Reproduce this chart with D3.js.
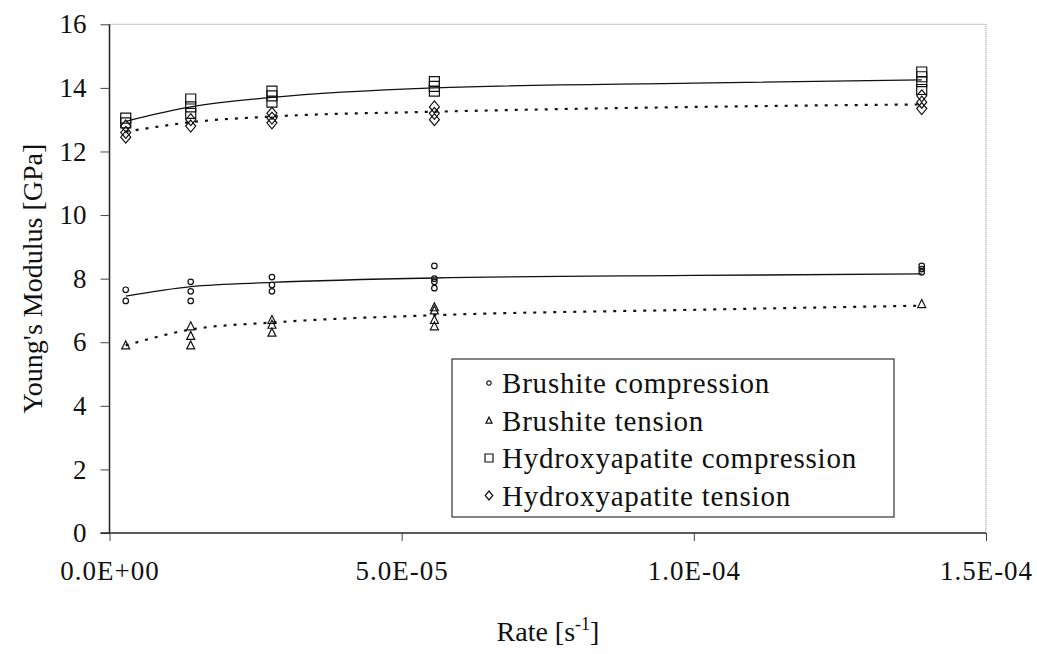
<!DOCTYPE html>
<html>
<head>
<meta charset="utf-8">
<script src="https://cdn.jsdelivr.net/npm/d3@7"></script>
<style>
  body { margin: 0; background: #fff; }
  text { font-family: "Liberation Serif", "Times New Roman", serif; fill: #111; }
</style>
</head>
<body>
<svg width="1037" height="654"></svg>
<script>
// rates [1/s] for each cluster
var rates = [2.78e-6, 1.39e-5, 2.78e-5, 5.56e-5, 1.39e-4];

// measured points, one list per rate
var haComp = [[13.05, 12.9], [13.65, 13.4, 13.2], [13.9, 13.75, 13.55], [14.2, 14.05, 13.9], [14.5, 14.35, 14.2, 13.95]];
var haTens = [[12.8, 12.6, 12.45], [13.0, 12.8], [13.2, 13.05, 12.9], [13.4, 13.2, 13.0], [13.75, 13.55, 13.35]];
var brComp = [[7.65, 7.3], [7.9, 7.6, 7.3], [8.05, 7.8, 7.6], [8.4, 8.0, 7.9, 7.7], [8.4, 8.3, 8.2]];
var brTens = [[5.9], [6.5, 6.2, 5.9], [6.7, 6.55, 6.3], [7.1, 7.0, 6.7, 6.5], [7.2]];

// trend lines
var trendX = [2.78e-6, 1.39e-5, 2.78e-5, 5.56e-5, 1.0e-4, 1.39e-4];
var haCompTrend = [12.95, 13.4, 13.7, 14.0, 14.15, 14.25];
var haTensTrend = [12.62, 12.92, 13.1, 13.25, 13.4, 13.48];
var brCompTrend = [7.45, 7.75, 7.88, 8.02, 8.1, 8.15];
var brTensTrend = [5.9, 6.4, 6.62, 6.85, 7.02, 7.15];

var xTicks = [0, 5e-5, 1e-4, 1.5e-4];
var xTickLabels = ["0.0E+00", "5.0E-05", "1.0E-04", "1.5E-04"];
var yTicks = [0, 2, 4, 6, 8, 10, 12, 14, 16];
var legendLabels = ["Brushite compression", "Brushite tension", "Hydroxyapatite compression", "Hydroxyapatite tension"];

var plotL = 109.5, plotR = 986, plotT = 24.3, plotB = 533;
var x = d3.scaleLinear().domain([0, 1.5e-4]).range([plotL, plotR]);
var y = d3.scaleLinear().domain([0, 16]).range([plotB, plotT]);

var svg = d3.select("svg");

// plot border (top/right dotted)
svg.append("path")
    .attr("d", "M" + plotL + "," + plotT + "H" + plotR + "V" + plotB)
    .attr("fill", "none").attr("stroke", "#888").attr("stroke-width", 1)
    .attr("stroke-dasharray", "1,1");

// axes
var yaxis = d3.axisLeft(y).tickValues(yTicks).tickSize(9).tickPadding(14).tickFormat(d3.format("d"));
var gy = svg.append("g").attr("transform", "translate(" + plotL + ",0)").call(yaxis);
var xaxis = d3.axisBottom(x).tickValues(xTicks).tickSize(8).tickPadding(20)
    .tickFormat(function(d, i) { return xTickLabels[i]; });
var gx = svg.append("g").attr("transform", "translate(0," + plotB + ")").call(xaxis);
[gx, gy].forEach(function(g) {
    g.select(".domain").attr("stroke", "#222").attr("stroke-width", 1.5);
    g.selectAll(".tick line").attr("stroke", "#444");
    g.selectAll("text").style("font-size", "27px").style("font-family", "Liberation Serif").attr("fill", "#111");
});
gx.selectAll("text").style("letter-spacing", "1px");
gy.select(".domain").attr("d", "M0," + plotT + "V" + plotB);
gx.select(".domain").attr("d", "M" + (plotL - 9) + ",0H" + plotR);

// trend lines
var line = d3.line()
    .x(function(d, i) { return x(trendX[i]); })
    .y(function(d) { return y(d); })
    .curve(d3.curveMonotoneX);
[[haCompTrend, null, 1.3], [haTensTrend, "3,7", 2.2], [brCompTrend, null, 1.3], [brTensTrend, "3,7", 2.2]]
  .forEach(function(t) {
    svg.append("path").attr("d", line(t[0])).attr("fill", "none")
        .attr("stroke", "#111").attr("stroke-width", t[2])
        .attr("stroke-dasharray", t[1]);
  });

// marker shapes
var shapes = {
    circle: function(s) { return d3.symbol(d3.symbolCircle, 24 * s * s)(); },
    triangle: function(s) { return "M0," + (-4.5 * s) + "L" + (4 * s) + "," + (3.5 * s) + "L" + (-4 * s) + "," + (3.5 * s) + "Z"; },
    square: function(s) { return "M" + (-5 * s) + "," + (-5 * s) + "h" + (10 * s) + "v" + (10 * s) + "h" + (-10 * s) + "Z"; },
    diamond: function(s) { return "M0," + (-6 * s) + "L" + (5 * s) + ",0L0," + (6 * s) + "L" + (-5 * s) + ",0Z"; }
};

function plotSeries(data, shape, scale) {
    var pts = [];
    data.forEach(function(vals, i) { vals.forEach(function(v) { pts.push([rates[i], v]); }); });
    svg.append("g").selectAll("path").data(pts).enter().append("path")
        .attr("transform", function(d) { return "translate(" + x(d[0]) + "," + y(d[1]) + ")"; })
        .attr("d", shapes[shape](scale))
        .attr("fill", "none").attr("stroke", "#111").attr("stroke-width", 1.2);
}
plotSeries(haComp, "square", 1);
plotSeries(haTens, "diamond", 1);
plotSeries(brComp, "circle", 1);
plotSeries(brTens, "triangle", 1);

// legend
var lg = svg.append("g");
lg.append("rect").attr("x", 452).attr("y", 359).attr("width", 442).attr("height", 158)
    .attr("fill", "#fff").attr("stroke", "#333").attr("stroke-width", 1.2);
var legendShapes = ["circle", "triangle", "square", "diamond"];
var legendSizes = [0.8, 0.75, 0.8, 0.75];
legendLabels.forEach(function(lab, i) {
    var cy = 383 + i * 37.5;
    lg.append("path").attr("transform", "translate(" + 489 + "," + cy + ")")
        .attr("d", shapes[legendShapes[i]](legendSizes[i]))
        .attr("fill", "none").attr("stroke", "#111").attr("stroke-width", 1.2);
    lg.append("text").attr("x", 502).attr("y", cy).attr("dy", "0.35em")
        .style("font-size", "29px").style("letter-spacing", "0.8px").text(lab);
});

// axis titles
svg.append("text").attr("transform", "translate(32," + ((plotT + plotB) / 2) + ") rotate(-90)")
    .attr("text-anchor", "middle").attr("dy", "0.35em").style("font-size", "28px")
    .text("Young's Modulus [GPa]");
var xt = svg.append("text").attr("x", 548).attr("y", 641).attr("text-anchor", "middle").style("font-size", "28px");
xt.append("tspan").text("Rate [s");
xt.append("tspan").attr("dy", -11).style("font-size", "18px").text("-1");
xt.append("tspan").attr("dy", 11).text("]");
</script>
</body>
</html>
